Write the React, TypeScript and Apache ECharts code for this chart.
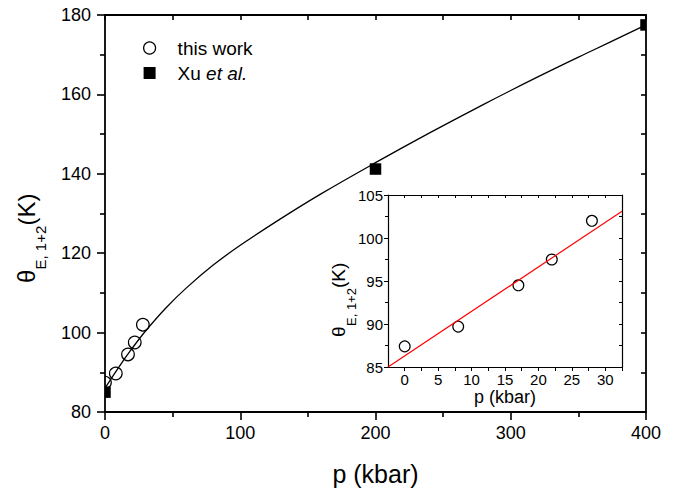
import React, { useEffect, useRef } from "react";
import * as echarts from "echarts";

// Main panel data
const thisWorkP = [0, 8, 17, 22, 28];
const thisWorkT = [87.4, 89.7, 94.5, 97.5, 102.0];
const xuP = [0, 200, 400];
const xuT = [85.0, 141.2, 177.5];
const curveP = [0, 10, 20, 30, 45, 60, 80, 100, 130, 160, 200, 240, 280, 320, 360, 400];
const curveT = [86.0, 91.2, 96.0, 100.4, 106.2, 111.2, 117.0, 122.0, 128.7, 135.0, 142.8, 150.3, 157.5, 164.4, 171.0, 177.5];

// Inset data
const fitP = [-2.5, 32.5];
const fitT = [85.0, 103.1];
const insetLabelTicks = [0, 5, 10, 15, 20, 25, 30];
const insetMinorTicks = [0, 2.5, 5, 7.5, 10, 12.5, 15, 17.5, 20, 22.5, 25, 27.5, 30, 32.5];

const FONT = "'Liberation Sans', Arial, sans-serif";

export default function App() {
  const ref = useRef<HTMLDivElement>(null);
  useEffect(() => {
    if (!ref.current) return;
    const chart = echarts.init(ref.current, undefined, { renderer: "svg" });
    const circles = thisWorkP.map((p, i) => [p, thisWorkT[i]]);
    const squares = xuP.map((p, i) => [p, xuT[i]]);
    const curve = curveP.map((p, i) => [p, curveT[i]]);
    const fit = fitP.map((p, i) => [p, fitT[i]]);

    const axisLine = (w: number) => ({ show: true, onZero: false, lineStyle: { color: "#000", width: w } });

    const circleRender = (r: number) => (params: any, api: any) => {
      const pt = api.coord([api.value(0), api.value(1)]);
      return {
        type: "circle",
        shape: { cx: pt[0], cy: pt[1], r },
        style: { fill: "none", stroke: "#000", lineWidth: 1.2 },
      };
    };

    const option: any = {
      animation: false,
      backgroundColor: "#fff",
      textStyle: { fontFamily: FONT },
      grid: [
        { left: 105, top: 15, width: 541, height: 398, containLabel: false },
        { left: 388, top: 195, width: 234, height: 172, show: true, backgroundColor: "#fff", borderWidth: 0 },
      ],
      legend: {
        orient: "vertical",
        left: 138,
        top: 33,
        itemWidth: 12,
        itemHeight: 12,
        itemGap: 5,
        selectedMode: false,
        data: [
          { name: "this work", icon: "circle", itemStyle: { color: "rgba(0,0,0,0)", borderColor: "#000", borderWidth: 1.2 } },
          { name: "Xu et al.", icon: "rect", itemStyle: { color: "#000", borderWidth: 0 } },
        ],
        formatter: (name: string) => (name === "Xu et al." ? "{n|Xu }{i|et al.}" : "{n|" + name + "}"),
        textStyle: {
          fontFamily: FONT,
          fontSize: 19,
          color: "#000",
          lineHeight: 20,
          padding: [0, 0, 0, 17],
          rich: {
            n: { fontFamily: FONT, fontSize: 19, color: "#000", lineHeight: 20 },
            i: { fontFamily: FONT, fontSize: 19, color: "#000", fontStyle: "italic", lineHeight: 20 },
          },
        },
      },
      xAxis: [
        {
          gridIndex: 0, type: "value", position: "bottom", min: 0, max: 400, interval: 100,
          axisLine: axisLine(1.8),
          axisTick: { show: true, inside: false, length: 8, lineStyle: { color: "#000", width: 1.6 } },
          minorTick: { show: true, splitNumber: 2, length: 5, lineStyle: { color: "#000", width: 1.6 } },
          axisLabel: { fontSize: 18, color: "#000", margin: 12, fontFamily: FONT },
          splitLine: { show: false },
          name: "p (kbar)", nameLocation: "middle", nameGap: 49,
          nameTextStyle: { fontSize: 25, color: "#000", fontFamily: FONT },
        },
        {
          gridIndex: 0, type: "value", position: "top", min: 0, max: 400, interval: 100,
          axisLine: axisLine(1.8),
          axisTick: { show: true, inside: true, length: 5, lineStyle: { color: "#000", width: 1.6 } },
          minorTick: { show: true, splitNumber: 2, length: 5, lineStyle: { color: "#000", width: 1.6 } },
          axisLabel: { show: false },
          splitLine: { show: false },
        },
        {
          gridIndex: 1, type: "value", position: "bottom", min: -2.5, max: 32.5,
          axisLine: axisLine(1.2),
          axisTick: { show: true, inside: false, length: 4, customValues: insetMinorTicks, lineStyle: { color: "#000", width: 1 } },
          axisLabel: { fontSize: 15, color: "#000", margin: 5, customValues: insetLabelTicks, fontFamily: FONT },
          splitLine: { show: false },
          name: "p (kbar)", nameLocation: "middle", nameGap: 20,
          nameTextStyle: { fontSize: 18, color: "#000", fontFamily: FONT },
        },
        {
          gridIndex: 1, type: "value", position: "top", min: -2.5, max: 32.5,
          axisLine: axisLine(1.2),
          axisTick: { show: true, inside: true, length: 3, customValues: insetMinorTicks, lineStyle: { color: "#000", width: 1 } },
          axisLabel: { show: false, customValues: insetLabelTicks },
          splitLine: { show: false },
        },
      ],
      yAxis: [
        {
          gridIndex: 0, type: "value", position: "left", min: 80, max: 180, interval: 20,
          axisLine: axisLine(1.8),
          axisTick: { show: true, inside: false, length: 8, lineStyle: { color: "#000", width: 1.6 } },
          minorTick: { show: true, splitNumber: 2, length: 5, lineStyle: { color: "#000", width: 1.6 } },
          axisLabel: { fontSize: 18, color: "#000", margin: 14, fontFamily: FONT },
          splitLine: { show: false },
        },
        {
          gridIndex: 0, type: "value", position: "right", min: 80, max: 180, interval: 20,
          axisLine: axisLine(1.8),
          axisTick: { show: true, inside: true, length: 5, lineStyle: { color: "#000", width: 1.6 } },
          minorTick: { show: true, splitNumber: 2, length: 5, lineStyle: { color: "#000", width: 1.6 } },
          axisLabel: { show: false },
          splitLine: { show: false },
        },
        {
          gridIndex: 1, type: "value", position: "left", min: 85, max: 105, interval: 5,
          axisLine: axisLine(1.2),
          axisTick: { show: true, inside: false, length: 4, lineStyle: { color: "#000", width: 1 } },
          minorTick: { show: true, splitNumber: 2, length: 3, lineStyle: { color: "#000", width: 1 } },
          axisLabel: { fontSize: 15, color: "#000", margin: 5, fontFamily: FONT },
          splitLine: { show: false },
        },
        {
          gridIndex: 1, type: "value", position: "right", min: 85, max: 105, interval: 5,
          axisLine: axisLine(1.2),
          axisTick: { show: true, inside: true, length: 3, lineStyle: { color: "#000", width: 1 } },
          minorTick: { show: true, splitNumber: 2, length: 3, lineStyle: { color: "#000", width: 1 } },
          axisLabel: { show: false },
          splitLine: { show: false },
        },
      ],
      series: [
        {
          name: "curve", type: "line", xAxisIndex: 0, yAxisIndex: 0, data: curve,
          smooth: 0.4, showSymbol: false, symbol: "none", clip: true,
          lineStyle: { color: "#000", width: 1.3 }, silent: true,
        },
        {
          name: "this work", type: "custom", xAxisIndex: 0, yAxisIndex: 0, data: circles, clip: true,
          encode: { x: 0, y: 1 }, itemStyle: { color: "#000" }, renderItem: circleRender(6.3),
        },
        {
          name: "Xu et al.", type: "custom", xAxisIndex: 0, yAxisIndex: 0, data: squares, clip: true,
          encode: { x: 0, y: 1 }, itemStyle: { color: "#000" },
          renderItem: (params: any, api: any) => {
            const pt = api.coord([api.value(0), api.value(1)]);
            return {
              type: "rect",
              shape: { x: pt[0] - 5.75, y: pt[1] - 5.75, width: 11.5, height: 11.5 },
              style: { fill: "#000" },
            };
          },
        },
        {
          name: "fit", type: "line", xAxisIndex: 2, yAxisIndex: 2, data: fit,
          showSymbol: false, symbol: "none", clip: true,
          lineStyle: { color: "#ff0000", width: 1.2 }, silent: true,
        },
        {
          name: "inset points", type: "custom", xAxisIndex: 2, yAxisIndex: 2, data: circles, clip: true,
          encode: { x: 0, y: 1 }, itemStyle: { color: "#000" }, renderItem: circleRender(5.4),
        },
      ],
      graphic: [
        { type: "text", x: 26, y: 283, rotation: Math.PI / 2, style: { text: "θ", font: `24px ${FONT}`, fill: "#000", align: "left", verticalAlign: "middle" } },
        { type: "text", x: 40, y: 269.5, rotation: Math.PI / 2, style: { text: "E, 1+2", font: `15px ${FONT}`, fill: "#000", align: "left", verticalAlign: "middle" } },
        { type: "text", x: 26, y: 225.5, rotation: Math.PI / 2, style: { text: "(K)", font: `24px ${FONT}`, fill: "#000", align: "left", verticalAlign: "middle" } },
        { type: "text", x: 338.5, y: 337, rotation: Math.PI / 2, style: { text: "θ", font: `19px ${FONT}`, fill: "#000", align: "left", verticalAlign: "middle" } },
        { type: "text", x: 351, y: 326, rotation: Math.PI / 2, style: { text: "E, 1+2", font: `13px ${FONT}`, fill: "#000", align: "left", verticalAlign: "middle" } },
        { type: "text", x: 338.5, y: 288, rotation: Math.PI / 2, style: { text: "(K)", font: `19px ${FONT}`, fill: "#000", align: "left", verticalAlign: "middle" } },
      ],
    };
    chart.setOption(option);
    return () => chart.dispose();
  }, []);
  return <div ref={ref} style={{ width: 679, height: 491, position: "absolute", left: 0, top: 0 }} />;
}
